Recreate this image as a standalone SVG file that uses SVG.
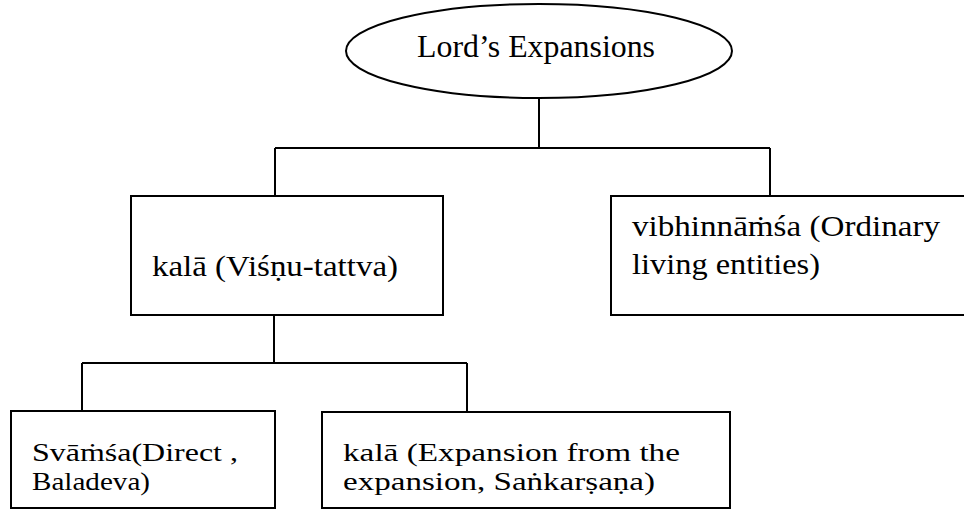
<svg xmlns="http://www.w3.org/2000/svg" width="964" height="510" viewBox="0 0 964 510">
  <style>
    .box { fill: #ffffff; stroke: #000000; stroke-width: 2; }
    .wire { fill: none; stroke: #000000; stroke-width: 2; }
    .lbl { font-family: "Times New Roman", "Liberation Serif", serif; font-size: 30px; fill: #000000; }
    .small { font-size: 26px; }
    .title { font-family: "Times New Roman", "Liberation Serif", serif; font-size: 32px; fill: #000000; }
  </style>
  <rect width="964" height="510" fill="#ffffff"/>

  <g id="connectors">
    <path class="wire" d="M539 98 V148 M275 148 H770 M275 148 V196 M770 148 V196"/>
    <path class="wire" d="M274 315 V363 M82 363 H467 M82 363 V411 M467 363 V412"/>
  </g>

  <g id="root">
    <ellipse class="box" cx="539" cy="51" rx="193" ry="47"/>
    <text class="title" x="417" y="57" textLength="238" lengthAdjust="spacingAndGlyphs">Lord’s Expansions</text>
  </g>

  <g id="kala">
    <rect class="box" x="131" y="196" width="312" height="119"/>
    <text class="lbl" x="152" y="276" textLength="246" lengthAdjust="spacingAndGlyphs">kalā (Viśṇu-tattva)</text>
  </g>

  <g id="vibhinnamsa">
    <rect class="box" x="611" y="196" width="360" height="119"/>
    <text class="lbl" x="632" y="236" textLength="308" lengthAdjust="spacingAndGlyphs">vibhinnāṁśa (Ordinary</text>
    <text class="lbl" x="632" y="274" textLength="188" lengthAdjust="spacingAndGlyphs">living entities)</text>
  </g>

  <g id="svamsa">
    <rect class="box" x="11" y="411" width="264" height="97"/>
    <text class="lbl small" x="32" y="461" textLength="206" lengthAdjust="spacingAndGlyphs">Svāṁśa(Direct ,</text>
    <text class="lbl small" x="32" y="490" textLength="118" lengthAdjust="spacingAndGlyphs">Baladeva)</text>
  </g>

  <g id="sankarsana">
    <rect class="box" x="322" y="412" width="408" height="96"/>
    <text class="lbl small" x="343" y="461" textLength="337" lengthAdjust="spacingAndGlyphs">kalā (Expansion from the</text>
    <text class="lbl small" x="343" y="490" textLength="312" lengthAdjust="spacingAndGlyphs">expansion, Saṅkarṣaṇa)</text>
  </g>
</svg>
